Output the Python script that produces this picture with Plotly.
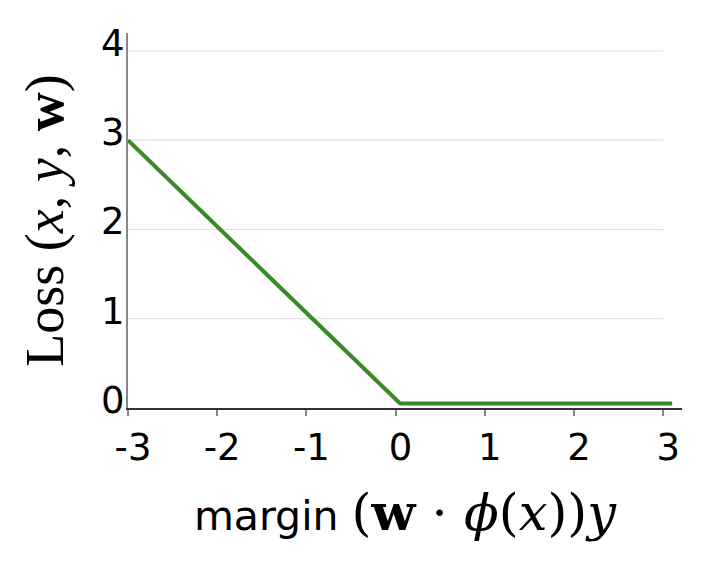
import plotly.graph_objects as go

# Data
margin_x = [-3.0, 0.05, 3.1]
loss_y = [3.0, 0.05, 0.05]
x_ticks = [-3, -2, -1, 0, 1, 2, 3]
y_ticks = [0, 1, 2, 3, 4]

GREEN = "#3a8a2a"
SANS = "DejaVu Sans"
SERIF = "Liberation Serif"
MATH = "DejaVu Serif"

fig = go.Figure()
fig.add_trace(go.Scatter(
    x=margin_x, y=loss_y, mode="lines",
    line=dict(color=GREEN, width=4), showlegend=False, hoverinfo="skip",
))

# horizontal gridlines spanning the tick range only
shapes = []
for yv in y_ticks[1:]:
    shapes.append(dict(type="line", xref="x", yref="y", x0=x_ticks[0], x1=x_ticks[-1],
                       y0=yv, y1=yv, line=dict(color="#dcdcdc", width=1), layer="below"))

y_title = "Loss (<i>x</i>, <i>y</i>, <b>w</b>)"
x_title = ("margin <span style='font-family:" + MATH + ";font-size:51px'>"
           "(<b>w</b> · <i>ϕ</i>(<i>x</i>))<i>y</i></span>")

fig.update_layout(
    width=722, height=570,
    margin=dict(l=120, r=48, t=25, b=170),
    plot_bgcolor="white", paper_bgcolor="white",
    shapes=shapes,
    font=dict(family=SANS, color="black"),
    xaxis=dict(
        range=[-3, 3.21], tickvals=x_ticks, ticktext=[str(v) for v in x_ticks],
        showgrid=False, zeroline=False, showline=True, linecolor="#333333", linewidth=1.5,
        ticks="outside", ticklen=6, tickwidth=1.5, tickcolor="#888888",
        tickfont=dict(family=SANS, size=37, color="black"), ticklabelshift=5,
        title=dict(text=x_title, font=dict(family=SANS, size=41, color="black"), standoff=33),
        automargin=False,
    ),
    yaxis=dict(
        range=[0, 4.2], tickvals=y_ticks, ticktext=[str(v) for v in y_ticks],
        showgrid=False, zeroline=False, showline=True, linecolor="#888888", linewidth=2,
        ticks="", tickfont=dict(family=SANS, size=37, color="black"), ticklabelshift=-8,
        ticklabelstandoff=-6,
        title=dict(text=y_title, font=dict(family=SERIF, size=54, color="black"), standoff=20),
        automargin=False,
    ),
)

fig.write_html("out.html")
